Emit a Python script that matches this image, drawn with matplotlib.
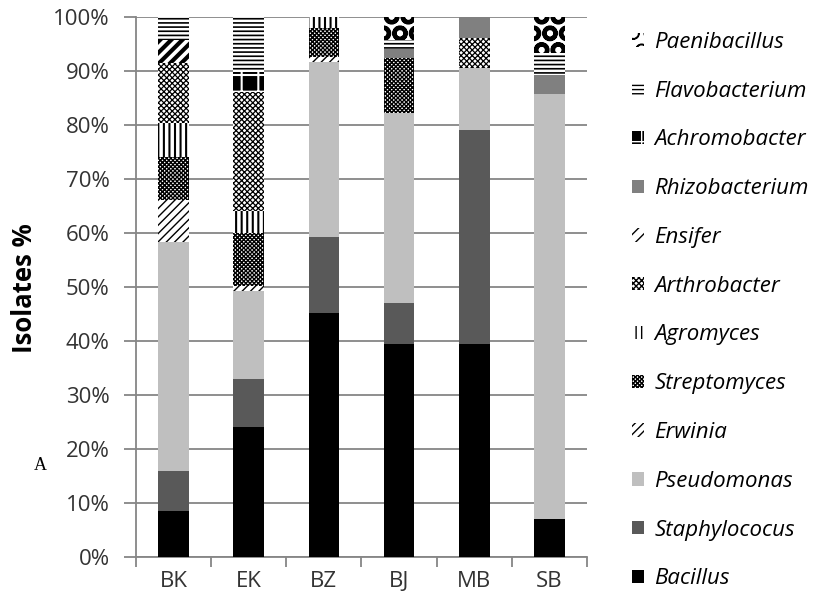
import matplotlib
matplotlib.use("Agg")
import matplotlib.pyplot as plt
import numpy as np

plt.rcParams['font.family'] = ['Open Sans', 'DejaVu Sans']
plt.rcParams['hatch.linewidth'] = 1.0

sites = ["BK", "EK", "BZ", "BJ", "MB", "SB"]

# percent of isolates per genus, bottom to top of each stack
bacillus       = [8.5, 24.0, 45.1, 39.4, 39.4, 7.0]
staphylococus  = [7.4, 8.9, 14.2, 7.7, 39.7, 0.0]
pseudomonas    = [42.5, 16.4, 32.4, 35.2, 11.5, 78.8]
erwinia        = [7.8, 0.9, 0.9, 0.0, 0.0, 0.0]
streptomyces   = [7.9, 9.8, 5.4, 10.1, 0.0, 0.0]
agromyces      = [6.3, 4.1, 2.0, 0.0, 0.0, 0.0]
arthrobacter   = [11.1, 22.1, 0.0, 0.0, 5.5, 0.0]
ensifer        = [4.2, 0.0, 0.0, 0.0, 0.0, 0.0]
rhizobacterium = [0.0, 0.0, 0.0, 1.7, 3.9, 3.5]
achromobacter  = [0.0, 3.6, 0.0, 0.0, 0.0, 0.0]
flavobacterium = [4.3, 10.2, 0.0, 1.6, 0.0, 4.0]
paenibacillus  = [0.0, 0.0, 0.0, 4.3, 0.0, 6.7]

# name, values, face, hatch colour, hatch, hatch width
series = [
    ("Bacillus", bacillus, "black", "black", None, 1),
    ("Staphylococus", staphylococus, "#595959", "#595959", None, 1),
    ("Pseudomonas", pseudomonas, "#bfbfbf", "#bfbfbf", None, 1),
    ("Erwinia", erwinia, "white", "black", "////", 1),
    ("Streptomyces", streptomyces, "white", "black", "xxxxxxxx", 1),
    ("Agromyces", agromyces, "white", "black", "|||", 1.5),
    ("Arthrobacter", arthrobacter, "white", "black", "xxxxxx", 0.9),
    ("Ensifer", ensifer, "white", "black", "///", 3),
    ("Rhizobacterium", rhizobacterium, "#808080", "#808080", None, 1),
    ("Achromobacter", achromobacter, "black", "white", "+", 1.5),
    ("Flavobacterium", flavobacterium, "white", "black", "----", 1.2),
    ("Paenibacillus", paenibacillus, "white", "black", "O", 3),
]

fig = plt.figure(figsize=(8.23, 6.09), dpi=100)
ax = fig.add_axes([136 / 823, 1 - 557 / 609, 451 / 823, 540 / 609])

x = np.arange(len(sites))
bottom = np.zeros(len(sites))
handles = []
for name, vals, fc, ec, hatch, hlw in series:
    vals = np.array(vals)
    bars = ax.bar(x, vals, 0.41, bottom=bottom, color=fc, edgecolor=ec,
                  hatch=hatch, linewidth=0, label=name, zorder=3)
    for b in bars:
        if hasattr(b, "set_hatch_linewidth"):
            b.set_hatch_linewidth(hlw)
    handles.append(bars)
    bottom += vals

ax.set_xlim(-0.5, len(sites) - 0.5)
ax.set_ylim(0, 100)
ax.set_yticks(np.arange(0, 101, 10))
ax.set_yticklabels([f"{v}%" for v in range(0, 101, 10)])
ax.set_xticks(x)
ax.set_xticklabels(sites)
ax.set_xticks(np.arange(-0.5, len(sites)), minor=True)
ax.tick_params(axis="x", which="major", length=0, pad=10, labelsize=16, labelcolor="#333333")
ax.tick_params(axis="x", which="minor", length=7, width=1.3, color="#868686")
ax.tick_params(axis="y", length=9, width=1.3, color="#868686", labelsize=16,
               labelcolor="#333333", pad=10)
ax.grid(axis="y", color="#868686", linewidth=1.3, zorder=0)
for s in ["top", "right"]:
    ax.spines[s].set_visible(False)
for s in ["left", "bottom"]:
    ax.spines[s].set_color("#868686")
    ax.spines[s].set_linewidth(1.3)

ax.set_ylabel("Isolates %", fontsize=18.5, fontweight="bold")
ax.yaxis.set_label_coords(-(136 - 38) / 451, (557 - 288) / 540)

fig.text(40 / 823, 1 - 466 / 609, "A", family="Liberation Serif", fontsize=13,
         ha="center", va="center")

leg = ax.legend(handles[::-1], [s[0] for s in series][::-1],
                loc="upper left", bbox_to_anchor=(1.085, 0.985), frameon=False,
                prop={"style": "italic", "size": 16}, labelspacing=1.25,
                handlelength=0.55, handleheight=0.55, handletextpad=0.45,
                borderaxespad=0.0, borderpad=0.3)

fig.savefig("out.png", dpi=100)
